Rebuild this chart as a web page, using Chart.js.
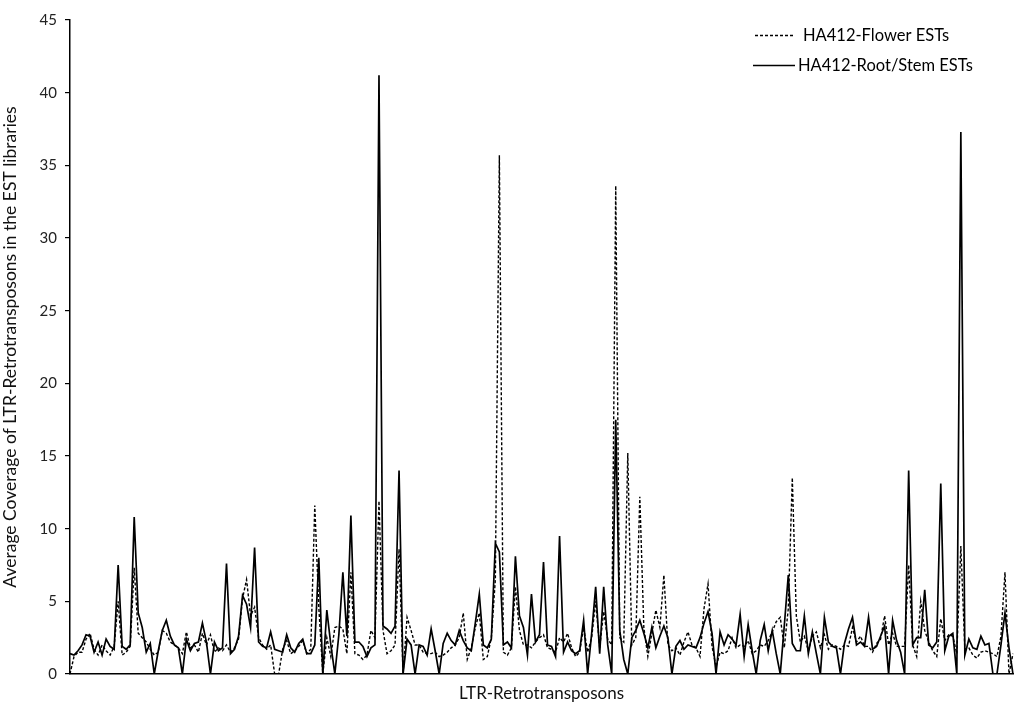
<!DOCTYPE html>
<html>
<head>
<meta charset="utf-8">
<script src="https://cdn.jsdelivr.net/npm/chart.js@4/dist/chart.umd.min.js"></script>
<style>
html,body{margin:0;padding:0;background:#fff;}
#wrap{width:1024px;height:705px;}
</style>
</head>
<body>
<div id="wrap"><canvas id="c" width="1024" height="705"></canvas></div>
<script>
const rootStem = [1.4,1.3,1.6,2.0,2.7,2.6,1.5,2.2,1.3,2.4,1.9,1.7,7.5,1.9,1.7,2.0,10.8,4.2,3.2,1.5,
2.1,0.0,1.6,3.0,3.7,2.6,2.0,1.8,0.0,2.4,1.6,2.1,2.2,3.5,2.2,0.0,2.2,1.6,1.8,7.6,
1.4,1.7,2.6,5.4,4.8,3.2,8.7,2.2,1.9,1.8,2.9,1.7,1.6,1.5,2.7,1.8,1.5,2.1,2.4,1.4,
1.4,2.0,8.0,0.0,4.4,2.0,0.0,2.7,7.0,2.6,10.9,2.2,2.2,1.9,1.2,1.8,2.0,41.2,3.3,3.1,
2.8,3.3,14.0,0.0,2.4,2.0,0.0,2.0,1.9,1.3,3.1,1.6,0.0,2.1,2.8,2.3,2.0,3.0,2.3,1.8,
1.6,3.5,5.5,2.0,1.8,2.4,9.0,8.4,2.0,2.2,1.8,8.1,4.0,3.2,1.3,5.5,2.2,2.7,7.7,2.0,
1.9,1.2,9.5,1.5,2.2,1.6,1.4,1.6,3.7,0.0,2.8,6.0,1.4,6.0,2.0,0.0,17.5,3.0,1.0,0.0,
2.5,3.0,3.7,2.8,1.8,3.2,1.8,2.6,3.3,2.5,0.0,1.9,2.3,1.7,2.0,1.9,1.8,2.5,3.5,4.3,
2.8,0.0,2.9,2.0,2.7,2.4,2.0,4.1,1.2,3.4,1.6,0.0,2.3,3.4,1.6,3.0,1.4,0.0,3.3,6.8,
2.1,1.6,1.6,4.0,1.4,2.9,1.4,0.0,3.9,2.2,1.9,1.8,0.0,2.1,3.1,3.9,2.0,2.2,1.9,3.9,
1.7,1.9,2.6,3.3,0.0,3.7,2.3,1.5,0.0,14.0,2.0,2.5,2.5,5.8,2.0,1.8,2.2,13.1,1.6,2.6,
2.8,0.0,37.3,1.3,2.4,1.8,1.7,2.6,2.0,2.1,0.0,0.0,2.0,4.2,1.8,0.0];

const flower = [0.0,1.2,1.5,1.5,2.4,2.8,1.7,1.3,2.0,1.6,1.3,1.9,5.0,1.3,1.5,1.9,7.3,2.8,2.5,2.2,
1.7,1.3,1.5,3.0,2.8,2.2,2.0,1.8,1.4,2.9,1.8,2.0,1.5,2.8,2.0,2.7,1.5,1.8,1.6,2.0,
1.5,1.8,2.4,5.2,6.5,4.0,4.6,2.5,2.0,1.7,2.0,0.0,0.0,1.7,2.3,1.4,1.6,1.9,2.3,1.4,
1.7,11.6,4.6,0.0,2.5,1.2,3.2,3.3,3.1,1.4,7.0,1.4,1.3,1.0,1.3,3.0,2.5,11.9,3.0,1.4,
1.6,2.0,8.6,0.0,3.9,3.0,2.0,2.0,1.5,1.4,1.4,1.5,1.2,1.3,1.5,1.8,2.0,2.5,4.2,1.0,
1.8,3.2,4.2,1.0,1.2,2.5,6.5,35.7,1.5,1.3,1.8,6.0,3.0,2.0,2.0,1.8,2.2,2.5,2.7,1.8,
1.7,1.5,2.5,2.2,2.8,1.8,1.2,1.5,3.2,1.5,2.5,5.0,1.8,4.3,2.4,2.0,33.6,2.5,2.2,15.2,
2.0,2.5,12.2,3.2,1.2,2.8,4.4,3.2,6.8,2.0,1.6,1.8,1.3,2.2,2.9,2.0,1.8,1.2,4.5,6.2,
1.9,0.5,1.5,1.4,1.6,2.5,1.8,2.0,1.9,2.3,1.4,1.6,2.0,1.9,2.3,2.9,3.6,3.9,1.8,4.5,
13.5,4.0,2.2,2.6,1.6,2.6,2.9,1.8,2.7,1.7,2.0,1.9,1.7,2.0,1.9,3.2,2.2,2.6,1.9,1.9,
1.5,2.1,2.4,4.0,2.0,2.8,1.9,1.9,1.9,7.5,2.0,1.2,5.0,3.0,2.2,1.6,1.2,3.8,2.3,2.7,
2.6,1.4,8.8,1.7,1.8,1.3,1.1,1.5,1.6,1.5,1.4,1.2,2.6,7.0,0.0,1.4];

const categories = rootStem.map((_, i) => 'LTR-' + (i + 1));
const yTicks = [0,5,10,15,20,25,30,35,40,45];
const seriesNames = ['HA412-Flower ESTs', 'HA412-Root/Stem ESTs'];
const FONT = 'Lato, "Open Sans", sans-serif';

const legendPlugin = {
  id: 'customLegend',
  afterDraw(chart) {
    const ctx = chart.ctx;
    ctx.save();
    ctx.strokeStyle = '#000';
    ctx.fillStyle = '#000';
    ctx.font = '16.5px ' + FONT;
    ctx.textBaseline = 'middle';
    ctx.lineWidth = 1.3;
    ctx.setLineDash([3, 2]);
    ctx.beginPath(); ctx.moveTo(755, 35.5); ctx.lineTo(794, 35.5); ctx.stroke();
    ctx.setLineDash([]);
    ctx.fillText(seriesNames[0], 803, 36);
    ctx.lineWidth = 1.6;
    ctx.beginPath(); ctx.moveTo(753, 65.5); ctx.lineTo(795, 65.5); ctx.stroke();
    ctx.fillText(seriesNames[1], 798, 66);
    ctx.restore();
  }
};

new Chart(document.getElementById('c'), {
  type: 'line',
  data: {
    labels: categories,
    datasets: [
      { label: seriesNames[0], data: flower, borderColor: '#000', borderWidth: 1.4,
        borderDash: [3, 2], pointRadius: 0, tension: 0, fill: false },
      { label: seriesNames[1], data: rootStem, borderColor: '#000', borderWidth: 1.7,
        pointRadius: 0, tension: 0, fill: false }
    ]
  },
  options: {
    responsive: false,
    animation: false,
    devicePixelRatio: 1,
    layout: { padding: { top: 20, right: 11, left: 0, bottom: 0 } },
    plugins: { legend: { display: false }, tooltip: { enabled: false } },
    scales: {
      x: {
        type: 'category',
        offset: false,
        grid: { display: false, drawTicks: false },
        ticks: { display: false },
        border: { display: true, color: '#000', width: 1.5 },
        title: { display: true, text: 'LTR-Retrotransposons', color: '#111',
                 font: { family: FONT, size: 17 }, padding: { top: 0, bottom: 1 } },
        afterFit(s) { s.height = 31; }
      },
      y: {
        min: 0, max: 45,
        afterBuildTicks(s) { s.ticks = yTicks.map(v => ({ value: v })); },
        ticks: { color: '#222', font: { family: FONT, size: 15 }, padding: 8 },
        grid: { drawOnChartArea: false, drawTicks: true, tickLength: 5, color: '#000', lineWidth: 1.2 },
        border: { display: true, color: '#000', width: 1.5 },
        title: { display: true, text: 'Average Coverage of LTR-Retrotransposons in the EST libraries',
                 color: '#111', font: { family: FONT, size: 17.5 }, padding: { top: 0, bottom: 0 } },
        afterFit(s) { s.width = 70; }
      }
    }
  },
  plugins: [legendPlugin]
});
</script>
</body>
</html>
